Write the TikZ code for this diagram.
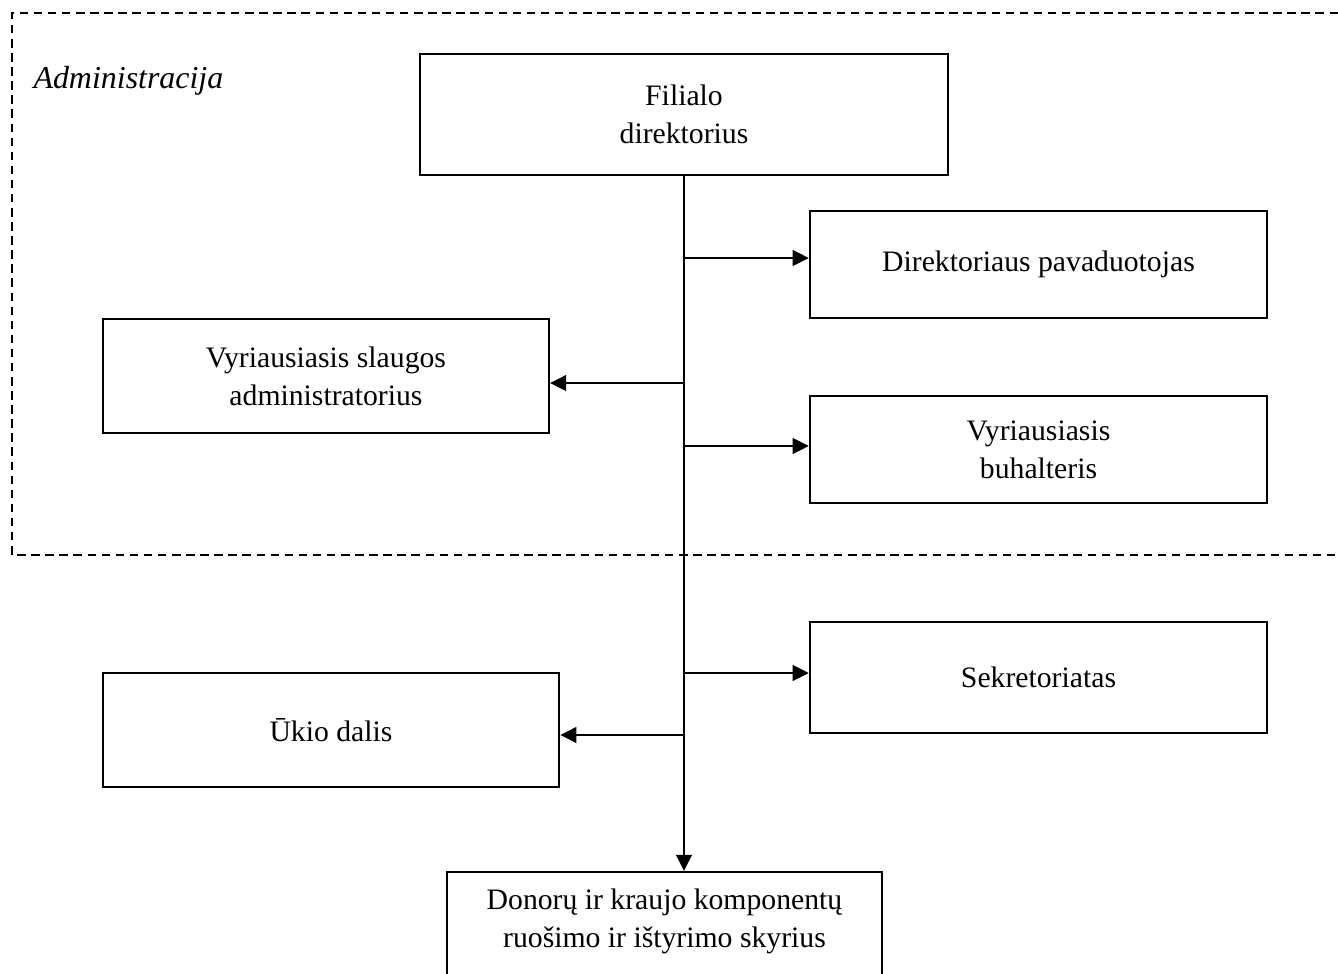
\documentclass[tikz,border=0pt]{standalone}
\usepackage{fontspec}
\setmainfont{Liberation Serif}
\usetikzlibrary{arrows.meta}

\begin{document}
\begin{tikzpicture}[
    % Styles
    unit/.style={% For the boxes of the structure
        rectangle,
        draw,
        line width=0.9pt,
        align=center,
        inner sep=2pt,
        font=\fontsize{12}{15.3}\selectfont,
        },
    zone/.style={% For the administration frame
        line width=0.7pt,
        dash pattern=on 0.12cm off 0.08cm,
        },
    ArrowT/.style={% Arrows from the trunk
        line width=1.1pt,
        -{Triangle[length=2.3mm,width=2.2mm]},
        },
    ]

    \useasboundingbox (0,0) rectangle (19.0,-13.83);

    % Draw the administration frame
    \draw [zone] (19.2,-0.185) -- (0.17,-0.185) -- (0.17,-7.881) -- (19.2,-7.881);
    \node [inner sep=0pt, anchor=base west, font=\fontsize{12.9}{15.3}\selectfont\itshape] (adm) at (0.469,-1.25) {Administracija};

    % Draw the units
    % top
    \node [unit, minimum width=7.50cm, minimum height=1.72cm] (dir) at (9.713,-1.626) {Filialo\\direktorius};
    % right column
    \node [unit, minimum width=6.49cm, minimum height=1.52cm] (pav) at (14.747,-3.756) {Direktoriaus pavaduotojas};
    \node [unit, minimum width=6.49cm, minimum height=1.52cm] (buh) at (14.747,-6.383) {Vyriausiasis\\buhalteris};
    \node [unit, minimum width=6.49cm, minimum height=1.58cm] (sekr) at (14.747,-9.621) {Sekretoriatas};
    % left column
    \node [unit, minimum width=6.33cm, minimum height=1.62cm] (slaug) at (4.629,-5.339) {Vyriausiasis slaugos\\administratorius};
    \node [unit, minimum width=6.48cm, minimum height=1.62cm] (ukio) at (4.700,-10.366) {Ūkio dalis};
    % bottom
    \node [unit, minimum width=6.18cm, minimum height=1.70cm, text depth=0.4cm] (donor) at (9.436,-13.234) {Donorų ir kraujo komponentų\\ruošimo ir ištyrimo skyrius};

    % Draw junctions on the trunk
    \coordinate (j1) at (9.713,-3.664);
    \coordinate (j2) at (9.713,-5.439);
    \coordinate (j3) at (9.713,-6.333);
    \coordinate (j4) at (9.713,-9.557);
    \coordinate (j5) at (9.713,-10.437);

    % Draw Arrows
    % trunk
    \draw [ArrowT] (dir.south) -- (dir.south |- donor.north);
    % branches
    \draw [ArrowT] (j1) -- (j1 -| pav.west);
    \draw [ArrowT] (j2) -- (j2 -| slaug.east);
    \draw [ArrowT] (j3) -- (j3 -| buh.west);
    \draw [ArrowT] (j4) -- (j4 -| sekr.west);
    \draw [ArrowT] (j5) -- (j5 -| ukio.east);

\end{tikzpicture}
\end{document}
